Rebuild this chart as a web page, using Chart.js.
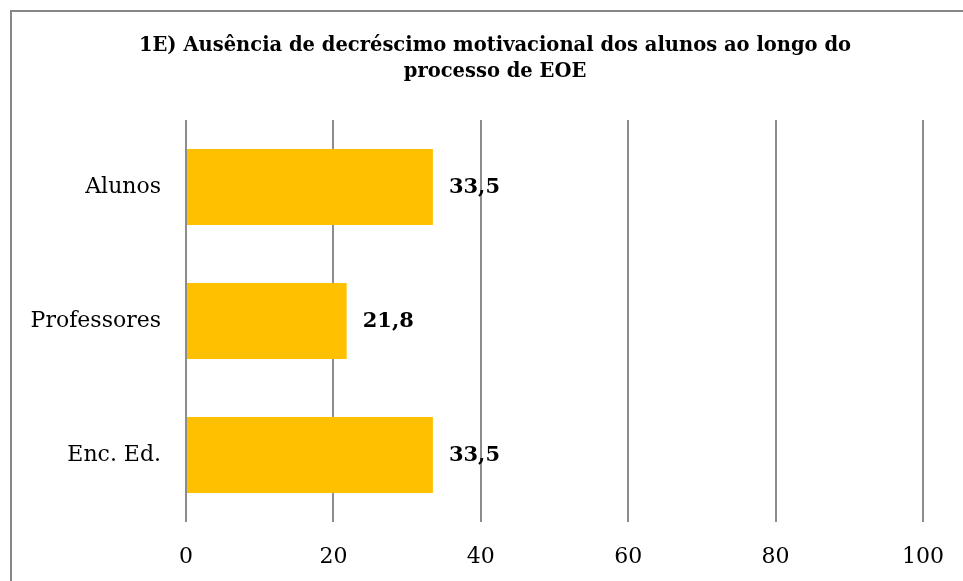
<!DOCTYPE html>
<html>
<head>
<meta charset="utf-8">
<script src="https://cdn.jsdelivr.net/npm/chart.js@4"></script>
<style>
    html, body { margin: 0; padding: 0; background: #fff; overflow: hidden; }
    #frame { position: absolute; left: 10px; top: 10px; width: 970px; height: 600px; border: 2px solid #878787; box-sizing: border-box; }
    #wrap { position: absolute; left: 0; top: 0; width: 963px; height: 581px; }
</style>
</head>
<body>
<div id="frame"></div>
<div id="wrap"><canvas id="chart"></canvas></div>
<script>
    // chart data
    var categories = ["Alunos", "Professores", "Enc. Ed."];
    var values = [33.5, 21.8, 33.5];
    var xTicks = [0, 20, 40, 60, 80, 100];
    var titleLines = ["1E) Ausência de decréscimo motivacional dos alunos ao longo do", "processo de EOE"];

    var SERIF = "'DejaVu Serif', 'Liberation Serif', serif";

    // title is centred on the outer frame, not on the plot, so draw it here
    var frameTitle = {
        id: "frameTitle",
        afterDraw: function(chart) {
            var ctx = chart.ctx;
            ctx.save();
            ctx.font = "bold 19.5px " + SERIF;
            ctx.fillStyle = "#000";
            ctx.textAlign = "center";
            ctx.textBaseline = "middle";
            titleLines.forEach(function(line, i) {
                ctx.fillText(line, 495, 46 + i * 26);
            });
            ctx.restore();
        }
    };

    // value labels drawn to the right of each bar
    var barLabels = {
        id: "barLabels",
        afterDatasetsDraw: function(chart) {
            var ctx = chart.ctx;
            var meta = chart.getDatasetMeta(0);
            ctx.save();
            ctx.font = "bold 21px " + SERIF;
            ctx.fillStyle = "#000";
            ctx.textAlign = "left";
            ctx.textBaseline = "middle";
            meta.data.forEach(function(bar, i) {
                var txt = values[i].toFixed(1).replace(".", ",");
                ctx.fillText(txt, bar.x + 16, bar.y + 1);
            });
            ctx.restore();
        }
    };

    new Chart(document.getElementById("chart"), {
        type: "bar",
        data: {
            labels: categories,
            datasets: [{
                data: values,
                backgroundColor: "#FFC000",
                borderWidth: 0,
                categoryPercentage: 1,
                barPercentage: 0.567
            }]
        },
        options: {
            indexAxis: "y",
            responsive: true,
            maintainAspectRatio: false,
            animation: false,
            layout: { padding: { left: 0, right: 40, top: 120, bottom: 0 } },
            plugins: {
                legend: { display: false },
                tooltip: { enabled: false },
                title: { display: false }
            },
            scales: {
                x: {
                    min: 0,
                    max: 100,
                    afterBuildTicks: function(axis) {
                        axis.ticks = xTicks.map(function(v) { return { value: v }; });
                    },
                    afterFit: function(axis) {
                        axis.height = 59;
                        axis.paddingLeft = 0;
                        axis.paddingRight = 0;
                    },
                    grid: { color: "#8c8c8c", lineWidth: 2, drawTicks: false },
                    border: { display: false },
                    ticks: { color: "#000", padding: 22, font: { family: SERIF, size: 22 } }
                },
                y: {
                    afterFit: function(axis) { axis.width = 186; },
                    grid: { display: false, drawTicks: false },
                    border: { display: false },
                    ticks: { color: "#000", padding: 25, font: { family: SERIF, size: 22 } }
                }
            }
        },
        plugins: [barLabels, frameTitle]
    });
</script>
</body>
</html>
